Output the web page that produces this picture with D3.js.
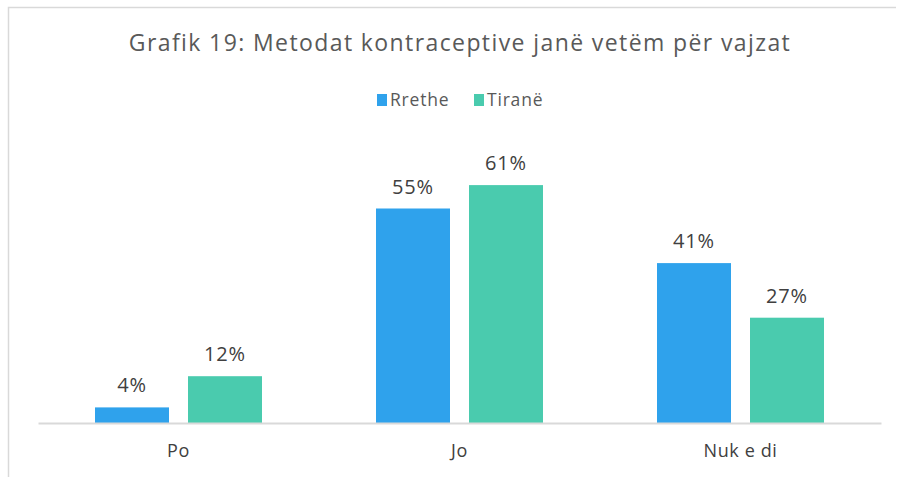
<!DOCTYPE html>
<html><head><meta charset="utf-8">
<script src="https://cdn.jsdelivr.net/npm/d3@7"></script>
<style>body{margin:0;background:#fff;} text{font-family:"Open Sans",sans-serif;}</style>
</head><body>
<script>
const categories = ["Po", "Jo", "Nuk e di"];
const seriesNames = ["Rrethe", "Tiranë"];
const rrethe = [4, 55, 41];
const tirane = [12, 61, 27];
const colors = ["#2FA2EC", "#4ACBAE"];
const title = "Grafik 19: Metodat kontraceptive janë vetëm për vajzat";

const W = 900, H = 477;
const svg = d3.select("body").append("svg").attr("width", W).attr("height", H);

// chart frame
svg.append("path").attr("d", `M8.5,477 V7.5 H896`).attr("fill", "none").attr("stroke", "#D9D9D9").attr("stroke-width", 1.5);

const x0 = d3.scaleBand().domain(categories).range([38, 881]).paddingInner(0).paddingOuter(0);
const x1 = d3.scaleBand().domain(seriesNames).range([57, 281 - 57]).paddingInner(19 / 167 * 2 / (1 + 19 / 167)).paddingOuter(0);
const y = d3.scaleLinear().domain([0, 70]).range([423, 150]);

const seriesData = [rrethe, tirane];
const g = svg.append("g");
categories.forEach((c, i) => {
  seriesNames.forEach((s, j) => {
    const v = seriesData[j][i];
    const xx = x0(c) + x1(s);
    g.append("rect").attr("x", xx).attr("y", y(v)).attr("width", x1.bandwidth()).attr("height", y(0) - y(v)).attr("fill", colors[j]);
    g.append("text").attr("x", xx + x1.bandwidth() / 2).attr("y", y(v) - 15)
      .attr("text-anchor", "middle").attr("font-size", 20).attr("letter-spacing", 0.8).attr("fill", "#404040").text(v + "%");
  });
});

const xAxis = svg.append("g").attr("transform", "translate(0,423)").call(d3.axisBottom(x0).tickSize(0).tickPadding(0));
xAxis.select(".domain").attr("stroke", "#D9D9D9").attr("stroke-width", 2);
xAxis.selectAll(".tick text").attr("font-size", 18).attr("letter-spacing", 0.6).attr("fill", "#404040").attr("dy", 0).attr("y", 34).style("font-family", "'Open Sans',sans-serif");

svg.append("text").attr("x", 460).attr("y", 51).attr("text-anchor", "middle").attr("font-size", 23).attr("letter-spacing", 1.4).attr("fill", "#595959").text(title);

// legend
const leg = svg.append("g");
const legX = [377, 474];
seriesNames.forEach((s, j) => {
  leg.append("rect").attr("x", legX[j]).attr("y", 94).attr("width", 10).attr("height", 12).attr("fill", colors[j]);
  leg.append("text").attr("x", legX[j] + 13).attr("y", 106).attr("font-size", 17.5).attr("letter-spacing", 0.8).attr("fill", "#595959").text(s);
});
</script>
</body></html>
